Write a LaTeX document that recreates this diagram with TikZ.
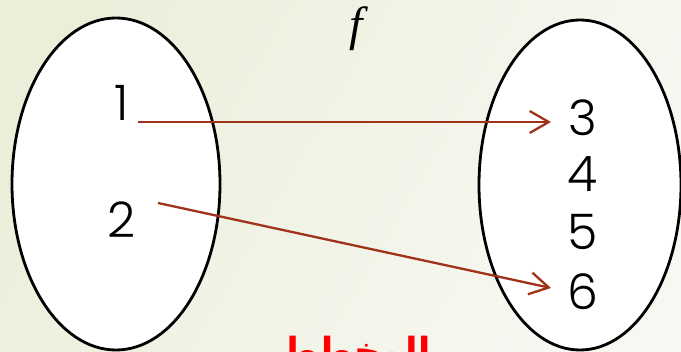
\documentclass[tikz,border=0pt]{standalone}
\usepackage{fontspec}
\setmainfont{Poppins Light}
\newfontfamily\arabicfont[Script=Arabic]{DejaVu Sans}
\newfontfamily\fserif{Liberation Serif}
\TeXXeTstate=1
\usetikzlibrary{shapes.geometric,arrows.meta}
\definecolor{bgL}{RGB}{234,239,218}
\definecolor{bgR}{RGB}{248,248,243}
\definecolor{arr}{RGB}{160,50,25}
\tikzset{
  setbox/.style={ellipse, draw=black, line width=2.8pt, fill=white, inner sep=0pt},
  elem/.style={font=\fontsize{49}{50}\selectfont, text=black, inner sep=0pt},
  maparrow/.style={draw=arr, line width=2.3pt, -{Straight Barb[length=19pt,width=22pt,line width=2.3pt]}},
}
\begin{document}
\begin{tikzpicture}[x=1pt,y=-1pt]
\useasboundingbox (0,0) rectangle (681,352);
\clip (0,0) rectangle (681,352);
\shade[shading=axis, left color=bgL, right color=bgR, shading angle=60] (-20,-20) rectangle (701,372);
\node[setbox, minimum width=208pt, minimum height=332pt] (A) at (116,184) {};
\node[setbox, minimum width=202pt, minimum height=330pt] (B) at (580,185) {};
\node[font=\fserif\itshape\fontsize{48}{50}\selectfont] (f) at (356,29) {f};
\node[elem] (n1) at (122,103) {1};
\node[elem] (n2) at (122,220) {2};
\node[elem] (n3) at (583,118) {3};
\node[elem] (n4) at (583,174) {4};
\node[elem] (n5) at (583,232) {5};
\node[elem] (n6) at (583,292) {6};
\coordinate (s1) at (138,122);
\coordinate (e1) at (551,122);
\coordinate (s2) at (158,203);
\coordinate (e2) at (551,288);
\draw[maparrow] (s1) -- (e1);
\draw[maparrow] (s2) -- (e2);
\node[anchor=base, text=red, font=\arabicfont\bfseries\fontsize{36}{40}\selectfont, inner sep=0pt] (t) at (356,364) {\beginR المخطط\endR};
\end{tikzpicture}
\end{document}
